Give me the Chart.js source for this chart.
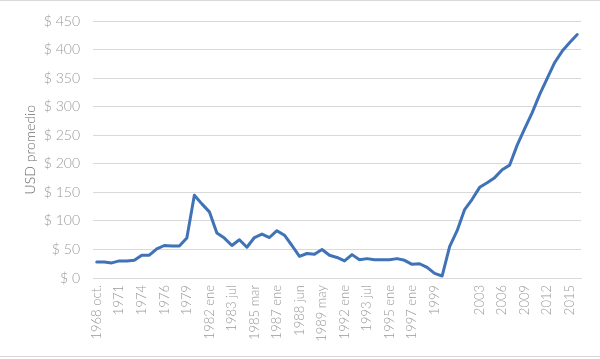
<!DOCTYPE html>
<html>
<head>
<meta charset="utf-8">
<script src="https://cdn.jsdelivr.net/npm/chart.js@4"></script>
<style>
  html, body { margin: 0; padding: 0; background: #fff; }
  #wrap { position: relative; width: 600px; height: 359px; }
</style>
</head>
<body>
<div id="wrap"><canvas id="canvas1" width="600" height="359"></canvas></div>
<script>
// labels shown on the category axis, one every 3 categories ('' = no label)
const tickLabels = ['1968 oct.', '1971', '1974', '1976', '1979', '1982 ene', '1983 jul',
  '1985 mar', '1987 ene', '1988 jun', '1989 may', '1992 ene', '1993 jul', '1995 ene',
  '1997 ene', '1999', '', '2003', '2006', '2009', '2012', '2015'];

// USD promedio
const values = [
  28, 28, 26.5, 30, 30, 31, 40, 40, 51, 57,
  56, 56, 70, 145, 130, 116, 79, 70, 57, 67,
  54, 71, 77, 71, 83, 75, 57, 38, 43, 41.5,
  50, 40, 36, 30, 41, 32, 34, 32, 32, 32,
  34, 31, 24, 25, 18.5, 8, 3.5, 55, 83, 120,
  138, 159, 167, 176, 190, 198, 233, 262, 290, 322,
  350, 378, 398, 413, 427
];

const categories = values.map((v, i) => (i % 3 === 0 ? tickLabels[i / 3] : ''));

const frame = {
  id: 'frame',
  beforeDraw(chart) {
    const ctx = chart.ctx;
    ctx.save();
    ctx.strokeStyle = '#d9d9d9';
    ctx.lineWidth = 1;
    ctx.beginPath();
    ctx.moveTo(0, 0.5); ctx.lineTo(600, 0.5);
    ctx.moveTo(0, 356.5); ctx.lineTo(600, 356.5);
    ctx.stroke();
    ctx.restore();
  }
};

new Chart(document.getElementById('canvas1'), {
  type: 'line',
  data: {
    labels: categories,
    datasets: [{
      label: 'USD promedio',
      data: values,
      borderColor: '#3f72b6',
      borderWidth: 3,
      pointRadius: 0,
      tension: 0,
      borderJoinStyle: 'round',
      borderCapStyle: 'round',
      fill: false
    }]
  },
  options: {
    responsive: false,
    animation: false,
    layout: {
      padding: { top: 18, right: 19, bottom: 0, left: 0 }
    },
    plugins: {
      legend: { display: false },
      tooltip: { enabled: false }
    },
    scales: {
      x: {
        offset: true,
        grid: { display: false, drawTicks: false },
        border: { display: true, color: '#d9d9d9', width: 1 },
        ticks: {
          autoSkip: false,
          minRotation: 90,
          maxRotation: 90,
          padding: 7,
          color: '#999999',
          font: { family: 'Lato', size: 13, weight: 300 }
        },
        afterFit(scale) { scale.height = 81; }
      },
      y: {
        min: 0,
        max: 450,
        border: { display: false },
        grid: { color: '#d9d9d9', drawTicks: false, lineWidth: 1 },
        ticks: {
          stepSize: 50,
          padding: 13,
          color: '#999999',
          font: { family: 'Lato', size: 14, weight: 300 },
          callback: v => '$ ' + v
        },
        title: {
          display: true,
          text: 'USD promedio',
          color: '#6a6a6a',
          font: { family: 'Lato', size: 14, weight: 300 },
          padding: { top: 22, bottom: 0 }
        },
        afterFit(scale) { scale.width = 93; }
      }
    }
  },
  plugins: [frame]
});
</script>
</body>
</html>
